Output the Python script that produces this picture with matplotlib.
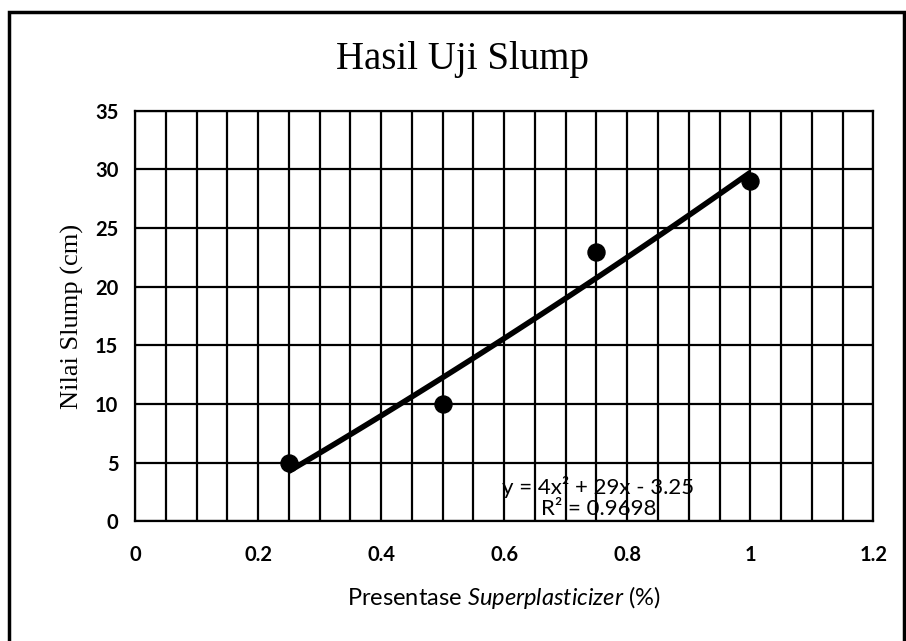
import numpy as np
import matplotlib
matplotlib.use("Agg")
import matplotlib.pyplot as plt
from matplotlib.patches import Rectangle

plt.rcParams["mathtext.fontset"] = "custom"
plt.rcParams["mathtext.rm"] = "Lato"
plt.rcParams["mathtext.it"] = "Lato:italic"

# data
persen = [0.25, 0.5, 0.75, 1.0]
slump = [5, 10, 23, 29]
# trendline coefficients as shown on the chart (a*x^2 + b*x + c)
koef = [4, 29, -3.25]
r2 = 0.9698

fig = plt.figure(figsize=(9.06, 6.41), dpi=100)
ax = fig.add_axes([0.149, 0.187, 0.815, 0.640])

# trendline
xt = np.linspace(min(persen), max(persen), 100)
yt = np.polyval(koef, xt)
ax.plot(xt, yt, color="black", lw=4, zorder=3, solid_capstyle="butt")
ax.scatter(persen, slump, s=150, color="black", zorder=4)

ax.set_xlim(0, 1.2)
ax.set_ylim(0, 35)
ax.set_xticks(np.arange(0, 1.21, 0.2))
ax.set_xticklabels(["0", "0.2", "0.4", "0.6", "0.8", "1", "1.2"])
ax.set_xticks(np.arange(0, 1.2001, 0.05), minor=True)
ax.set_yticks(np.arange(0, 36, 5))
ax.grid(which="both", axis="x", color="black", lw=1.6)
ax.grid(which="major", axis="y", color="black", lw=1.6)
ax.tick_params(which="both", length=0, pad=12)
ax.tick_params(axis="x", pad=17)
for lab in ax.get_xticklabels() + ax.get_yticklabels():
    lab.set_fontfamily("Lato")
    lab.set_fontweight("bold")
    lab.set_fontsize(14.5)
for s in ax.spines.values():
    s.set_color("black")
    s.set_linewidth(1.6)

ax.set_title("Hasil Uji Slump", fontfamily="Liberation Serif", fontsize=28, pad=30, x=0.443)
ax.set_ylabel("Nilai Slump (cm)", fontfamily="Liberation Serif", fontsize=19, labelpad=8)
ax.set_xlabel("Presentase $\\it{Superplasticizer}$ (%)", fontfamily="Lato", fontsize=17, labelpad=14)

eq = "y = %gx² + %gx - %g\nR² = %.4f" % (koef[0], koef[1], abs(koef[2]), r2)
ax.text(0.753, 2.0, eq, ha="center", va="center", fontfamily="Lato", fontsize=16,
        linespacing=1.1, zorder=5)

# outer frame of the scanned chart
fig.patches.append(Rectangle((0.01, -0.05), 0.988, 1.031, transform=fig.transFigure,
                             fill=False, edgecolor="black", lw=2.5))

fig.savefig("out.png", dpi=100)
